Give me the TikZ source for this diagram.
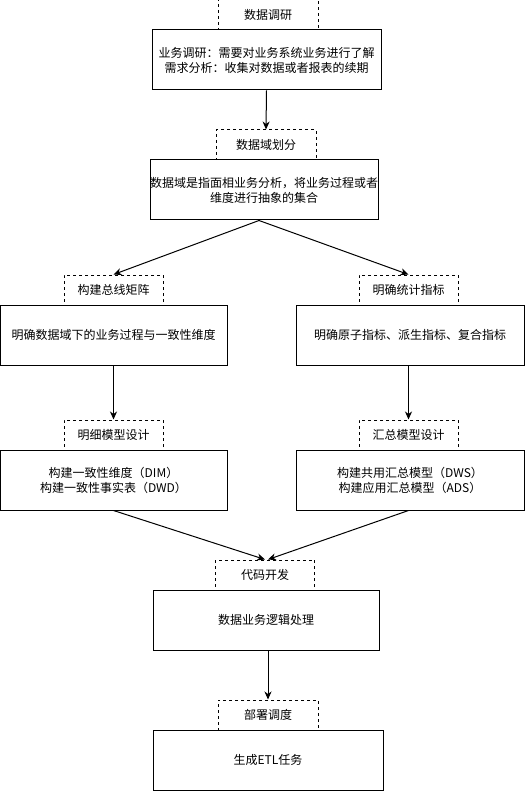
\documentclass[tikz,border=0pt]{standalone}
\usepackage{fontspec}
\setmainfont{Noto Sans CJK SC}
\usetikzlibrary{arrows.meta}

\begin{document}
\begin{tikzpicture}[x=1pt,y=-1pt,
  box/.style={draw,line width=1pt,inner sep=0pt,minimum height=60pt,align=center,font=\fontsize{12}{15}\selectfont},
  tag/.style={draw,line width=1pt,dash pattern=on 3pt off 3pt,inner sep=0pt,minimum width=100pt,minimum height=30pt,font=\fontsize{12}{15}\selectfont},
  flow/.style={line width=1pt,-{Stealth[length=8pt,width=7pt,inset=2.5pt]}}]
\useasboundingbox (0,0) rectangle (531,791);
% research
\node[tag] (tagA) at (268,15) {数据调研};
\node[box,minimum width=229pt] (boxA) at (266.5,60) {业务调研：需要对业务系统业务进行了解\\需求分析：收集对数据或者报表的续期};
% domain
\node[tag] (tagB) at (266,145) {数据域划分};
\node[box,minimum width=228pt] (boxB) at (264,190) {数据域是指面相业务分析，将业务过程或者\\维度进行抽象的集合};
% left branch
\node[tag,minimum width=99pt] (tagC) at (113.5,290) {构建总线矩阵};
\node[box,minimum width=227pt] (boxC) at (113.5,335) {明确数据域下的业务过程与一致性维度};
\node[tag,minimum width=99pt] (tagE) at (113.5,435) {明细模型设计};
\node[box,minimum width=227pt] (boxE) at (113.5,480) {构建一致性维度（DIM）\\构建一致性事实表（DWD）};
% right branch
\node[tag,minimum width=99pt] (tagD) at (408.5,290) {明确统计指标};
\node[box,minimum width=228pt] (boxD) at (410,335) {明确原子指标、派生指标、复合指标};
\node[tag,minimum width=99pt] (tagF) at (408.5,435) {汇总模型设计};
\node[box,minimum width=228pt] (boxF) at (410,480) {构建共用汇总模型（DWS）\\构建应用汇总模型（ADS）};
% development
\node[tag,minimum width=99pt] (tagG) at (265,575) {代码开发};
\node[box,minimum width=226pt] (boxG) at (266,620) {数据业务逻辑处理};
% deploy
\node[tag] (tagH) at (268,715) {部署调度};
\node[box,minimum width=230pt] (boxH) at (268,760) {生成ETL任务};

\draw[flow] (boxA.south) -- (tagB.north);
\draw[flow] ([xshift=-5pt]boxB.south) -- (tagC.north);
\draw[flow] ([xshift=-5pt]boxB.south) -- (tagD.north);
\draw[flow] (boxC.south) -- (tagE.north);
\draw[flow] (boxD.south -| tagF.north) -- (tagF.north);
\draw[flow] (boxE.south) -- (tagG.north);
\draw[flow] (boxF.south -| tagF.north) -- ([xshift=3pt]tagG.north);
\draw[flow] (boxG.south -| tagH.north) -- (tagH.north);
\end{tikzpicture}
\end{document}
